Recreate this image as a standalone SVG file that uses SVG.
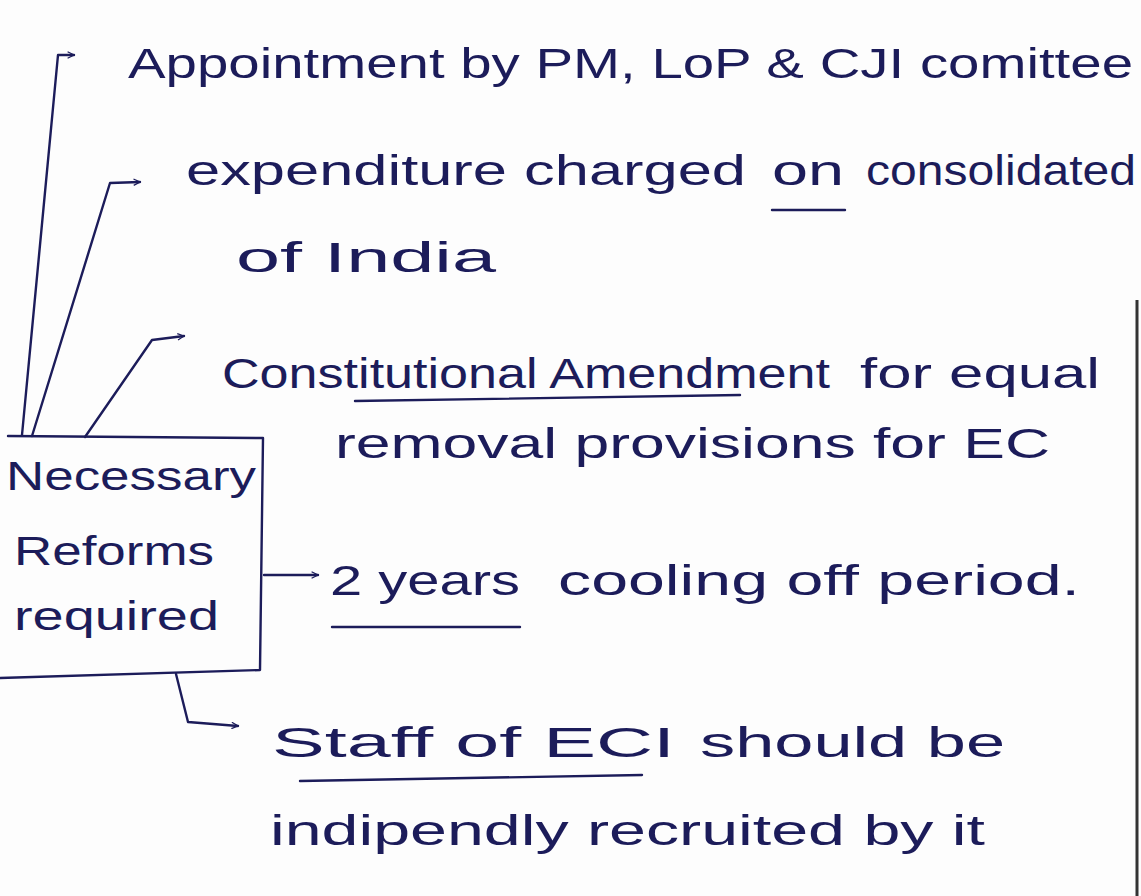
<svg xmlns="http://www.w3.org/2000/svg" width="1141" height="896" viewBox="0 0 1141 896">
<defs>
<marker id="ah" viewBox="0 0 10 10" refX="9" refY="5" markerWidth="8" markerHeight="8" orient="auto" markerUnits="userSpaceOnUse">
<path d="M1,1 L9,5 L1,9" fill="none" stroke="#1c1c5a" stroke-width="1.6"/>
</marker>
<style>
.ink{fill:none;stroke:#1c1c5a;stroke-width:2.4;stroke-linecap:round;stroke-linejoin:round}
.t{font-family:"Liberation Sans","DejaVu Sans",sans-serif;fill:#1c1c5a;font-size:42px}
.b{font-family:"Liberation Sans","DejaVu Sans",sans-serif;fill:#1c1c5a;font-size:40px}
</style>
</defs>
<rect width="1141" height="896" fill="#fdfdfd"/>
<line x1="1137" y1="300" x2="1137" y2="896" stroke="#333" stroke-width="3"/>
<g id="connectors">
<polyline class="ink" points="22,435 58,55 74,55" marker-end="url(#ah)"/>
<polyline class="ink" points="32,436 110,183 140,182" marker-end="url(#ah)"/>
<polyline class="ink" points="85,437 152,340 184,336" marker-end="url(#ah)"/>
<polyline class="ink" points="264,575 318,575" marker-end="url(#ah)"/>
<polyline class="ink" points="176,674 188,722 238,726" marker-end="url(#ah)"/>
</g>
<g id="node-reforms">
<polyline class="ink" points="8,436 263,438 260,670 0,678"/>
<text class="b" x="6" y="490" textLength="250" lengthAdjust="spacingAndGlyphs">Necessary</text>
<text class="b" x="14" y="565" textLength="200" lengthAdjust="spacingAndGlyphs">Reforms</text>
<text class="b" x="14" y="630" textLength="205" lengthAdjust="spacingAndGlyphs">required</text>
</g>
<g id="node-appointment">
<text class="t" x="128" y="78" textLength="1005" lengthAdjust="spacingAndGlyphs">Appointment by PM, LoP &amp; CJI comittee</text>
</g>
<g id="node-expenditure">
<text class="t" x="186" y="185" textLength="560" lengthAdjust="spacingAndGlyphs">expenditure charged</text>
<text class="t" x="772" y="185" textLength="72" lengthAdjust="spacingAndGlyphs">on</text>
<text class="t" x="866" y="185" textLength="270" lengthAdjust="spacingAndGlyphs">consolidated</text>
<line class="ink" x1="772" y1="210" x2="845" y2="210"/>
<text class="t" x="236" y="272" textLength="260" lengthAdjust="spacingAndGlyphs">of India</text>
</g>
<g id="node-amendment">
<text class="t" x="222" y="388" textLength="608" lengthAdjust="spacingAndGlyphs">Constitutional Amendment</text>
<text class="t" x="860" y="388" textLength="240" lengthAdjust="spacingAndGlyphs">for equal</text>
<path class="ink" d="M355,401 L740,395"/>
<text class="t" x="335" y="458" textLength="715" lengthAdjust="spacingAndGlyphs">removal provisions for EC</text>
</g>
<g id="node-cooling">
<text class="t" x="330" y="595" textLength="190" lengthAdjust="spacingAndGlyphs">2 years</text>
<text class="t" x="558" y="595" textLength="522" lengthAdjust="spacingAndGlyphs">cooling off period.</text>
<line class="ink" x1="332" y1="627" x2="520" y2="627"/>
</g>
<g id="node-staff">
<text class="t" x="272" y="757" textLength="403" lengthAdjust="spacingAndGlyphs">Staff of ECI</text>
<text class="t" x="700" y="757" textLength="305" lengthAdjust="spacingAndGlyphs">should be</text>
<path class="ink" d="M300,781 L642,775"/>
<text class="t" x="270" y="845" textLength="715" lengthAdjust="spacingAndGlyphs">indipendly recruited by it</text>
</g>
</svg>
